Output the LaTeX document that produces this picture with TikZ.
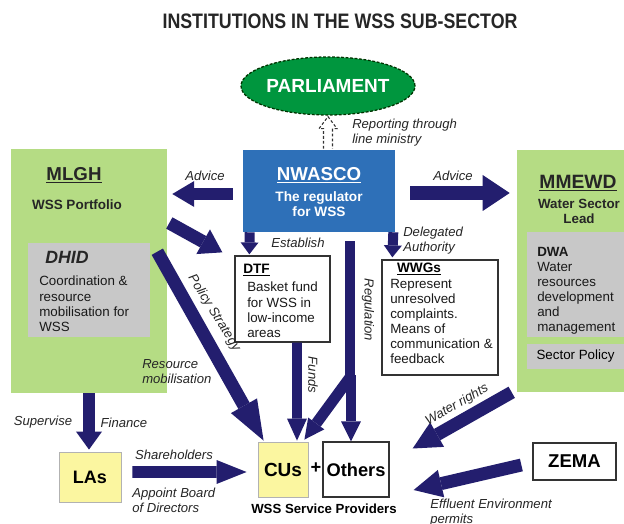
\documentclass[tikz,border=0pt]{standalone}
\usepackage{fontspec}
\setmainfont{Liberation Sans}
\usetikzlibrary{arrows.meta,shapes.geometric,calc}

\definecolor{navy}{RGB}{35,30,110}
\definecolor{lightgreen}{RGB}{181,220,132}
\definecolor{boxgray}{RGB}{200,200,200}
\definecolor{regblue}{RGB}{46,112,184}
\definecolor{parlgreen}{RGB}{0,150,62}
\definecolor{cuyellow}{RGB}{251,246,160}

\newcommand{\setfs}[1]{\fontsize{#1}{10.7pt}\selectfont}

\tikzset{
  greenbox/.style={fill=lightgreen, draw=none, inner sep=0pt},
  graybox/.style={fill=boxgray, draw=none, inner sep=0pt},
  whitebox/.style={fill=white, draw=black!80, line width=0.9pt, inner sep=0pt},
  yellowbox/.style={fill=cuyellow, draw=black!30, line width=0.6pt, inner sep=0pt},
  lbl/.style={font=\setfs{9.3}\itshape, inner sep=0pt, text=black!85},
  body/.style={font=\setfs{9.5}, inner sep=0pt, align=left, text=black!90},
  blk/.style n args={3}{draw=navy, line width=#1, -{Triangle[length=#2, width=#3, line width=0pt]}},
}

\begin{document}
\begin{tikzpicture}[x=0.025cm, y=-0.025cm]
    \useasboundingbox (0,0) rectangle (624,524);
    \fill[white] (0,0) rectangle (624,524);

    \node[font=\setfs{14.9}\bfseries, text=black!85] (title) at (340,21) {\scalebox{0.85}[1]{INSTITUTIONS IN THE WSS SUB-SECTOR}};

    % boxes
    \node[greenbox, minimum width=3.9cm, minimum height=6.1cm] (mlgh) at (89,271) {};
    \node[graybox, minimum width=3.05cm, minimum height=2.35cm] (dhid) at (89,290) {};
    \node[greenbox, minimum width=2.675cm, minimum height=6.05cm] (mmewd) at (570.5,271) {};
    \node[graybox, minimum width=2.425cm, minimum height=2.625cm] (dwa) at (575.5,284.5) {};
    \node[graybox, minimum width=2.425cm, minimum height=0.625cm, font=\setfs{9.5}] (policy) at (575.5,356.5) {Sector Policy};
    \node[fill=regblue, inner sep=0pt, minimum width=3.8cm, minimum height=2.05cm] (nwasco) at (319,191) {};
    \node[ellipse, fill=parlgreen, draw=black!80!green, dash pattern=on 2pt off 1.2pt, line width=0.9pt, inner sep=0pt,
          minimum width=4.325cm, minimum height=1.45cm, font=\setfs{13.5}\bfseries, text=white] (parl) at (328,86) {PARLIAMENT};
    \node[whitebox, minimum width=2.375cm, minimum height=2.15cm] (dtf) at (282.5,299) {};
    \node[whitebox, minimum width=2.9cm, minimum height=2.875cm] (wwgs) at (440,317.5) {};
    \node[yellowbox, minimum width=1.55cm, minimum height=1.25cm, font=\setfs{12.8}\bfseries] (las) at (90,477) {LAs};
    \node[yellowbox, minimum width=1.25cm, minimum height=1.375cm, font=\setfs{13.5}\bfseries] (cus) at (283,469.5) {CUs};
    \node[whitebox, minimum width=1.65cm, minimum height=1.375cm, font=\setfs{13}\bfseries] (others) at (356,469.5) {Others};
    \node[whitebox, minimum width=2.075cm, minimum height=0.925cm, font=\setfs{13.2}\bfseries] (zema) at (574.5,461.5) {ZEMA};
    \node[font=\setfs{13}\bfseries] (plus) at (316,468) {+};
    \node[font=\setfs{9.4}\bfseries] (wsp) at (324,509) {WSS Service Providers};

    % texts in boxes
    \node[font=\setfs{13.3}\bfseries, text=black!85] (mlghT) at (74,175) {\underline{MLGH}};
    \node[font=\setfs{9.6}\bfseries, text=black!85] (mlghS) at (77,205) {WSS Portfolio};
    \node[font=\setfs{12.6}\bfseries\itshape, anchor=west, inner sep=0pt, text=black!85] (dhidT) at (45,257) {DHID};
    \node[body, anchor=north west] (dhidB) at (39,276) {Coordination \&\\resource\\mobilisation for\\WSS};
    \node[font=\setfs{13.7}\bfseries, text=black!85] (mmewdT) at (578,183) {\underline{MMEWD}};
    \node[font=\setfs{9.5}\bfseries, align=center, text=black!85] (mmewdS) at (579,211.5) {Water Sector\\Lead};
    \node[body, anchor=north west] (dwaB) at (537,247) {\textbf{DWA}\\Water\\resources\\development\\and\\management};
    \node[font=\setfs{13.3}\bfseries, text=white] (nwascoT) at (319,175) {\underline{NWASCO}};
    \node[font=\setfs{9.7}\bfseries, align=center, text=white] (nwascoS) at (319,204.5) {The regulator\\for WSS};
    \node[font=\setfs{9.7}\bfseries, anchor=west, inner sep=0pt] (dtfT) at (243,270) {\underline{DTF}};
    \node[body, anchor=north west] (dtfB) at (247,282) {Basket fund\\for WSS in\\low-income\\areas};
    \node[font=\setfs{9.7}\bfseries] (wwgsT) at (419,269) {\underline{WWGs}};
    \node[body, anchor=north west] (wwgsB) at (390,279) {Represent\\unresolved\\complaints.\\Means of\\communication \&\\feedback};

    % reporting arrow
    \draw[black!80, dash pattern=on 2pt off 1.5pt, line width=0.8pt]
        ($(parl.south)+(-4.5,33)$) -- ($(parl.south)+(-4.5,13)$) -- ($(parl.south)+(-9,13)$) -- ($(parl.south)+(0,1)$)
        -- ($(parl.south)+(9,13)$) -- ($(parl.south)+(4.5,13)$) -- ($(parl.south)+(4.5,33)$);
    \node[lbl, anchor=west, align=left] (rep) at (352,132.5) {Reporting through\\line ministry};

    % block arrows
    \draw[blk={9.2pt}{15.6pt}{18.5pt}] ($(nwasco.west)+(-10,3)$) -- ($(mlgh.east |- nwasco.west)+(5,3)$);
    \node[lbl] (advL) at (205,176) {Advice};
    \draw[blk={10pt}{19.2pt}{25.6pt}] ($(nwasco.east)+(15,2)$) -- ($(mmewd.west |- nwasco.east)+(-7,2)$);
    \node[lbl] (advR) at (453,176) {Advice};
    \draw[blk={9.2pt}{15.6pt}{20pt}] ($(mlgh.east)+(2,-48)$) -- ($(dtf.north west)+(-12,-3)$);
    \draw[blk={7.1pt}{8.5pt}{12.8pt}] ($(nwasco.south west)+(7,0)$) -- ($(dtf.north west)+(15,-1)$);
    \node[lbl] (est) at (298,243) {Establish};
    \draw[blk={7.1pt}{8.5pt}{12.8pt}] ($(nwasco.south east)+(-2,0)$) -- ($(wwgs.north west)+(11,-2)$);
    \node[lbl, anchor=west, align=left] (del) at (403,240.5) {Delegated\\Authority};

    % regulation
    \coordinate (fork) at ($(others.north)+(-6,-64)$);
    \draw[draw=navy, line width=7.8pt] ($(nwasco.south)+(31,9)$) -- ($(others.north)+(-6,-58)$);
    \draw[blk={7.8pt}{14.2pt}{14.2pt}] (fork) -- ($(cus.north east)+(-4,-2)$);
    \draw[blk={7.8pt}{14.2pt}{14.2pt}] ($(others.north)+(-5,-66)$) -- ($(others.north)+(-5,0)$);
    \node[lbl, rotate=-90] (reg) at (368,310) {Regulation};

    \draw[blk={7.1pt}{15.6pt}{14.2pt}] ($(dtf.south)+(14.5,0)$) -- ($(cus.north)+(14,-1)$);
    \node[lbl, rotate=-90] (fun) at (313,375) {Funds};
    \draw[blk={9.2pt}{28.4pt}{21.3pt}] ($(dhid.north east)+(7,9)$) -- ($(cus.north west)+(6,-1)$);
    \node[lbl, rotate=-58] (pol) at (214,313) {Policy Strategy};
    \node[lbl, anchor=west, align=left] (res) at (142,371.5) {Resource\\mobilisation};

    \draw[blk={9.2pt}{12.8pt}{18.5pt}] (mlgh.south) -- ($(las.north)+(-1,-2)$);
    \node[lbl] (sup) at (43,422) {Supervise};
    \node[lbl] (fin) at (124,423) {Finance};
    \draw[blk={8.5pt}{21.3pt}{17pt}] ($(las.east)+(11,-5)$) -- ($(cus.west)+(-11,2.5)$);
    \node[lbl] (sha) at (174,455) {Shareholders};
    \node[lbl, anchor=west, align=left] (app) at (132,500) {Appoint Board\\of Directors};

    \draw[blk={9.2pt}{20pt}{20pt}] ($(mmewd.south west)+(-5,0)$) -- ($(others.east)+(23,-21)$);
    \node[lbl, rotate=30] (wat) at (457,405) {Water rights};
    \draw[blk={9.2pt}{20pt}{20pt}] ($(zema.west)+(-11,3.5)$) -- ($(others.east)+(24,20.5)$);
    \node[lbl, anchor=west, align=left] (eff) at (430,513) {Effluent Environment\\permits};
\end{tikzpicture}
\end{document}
